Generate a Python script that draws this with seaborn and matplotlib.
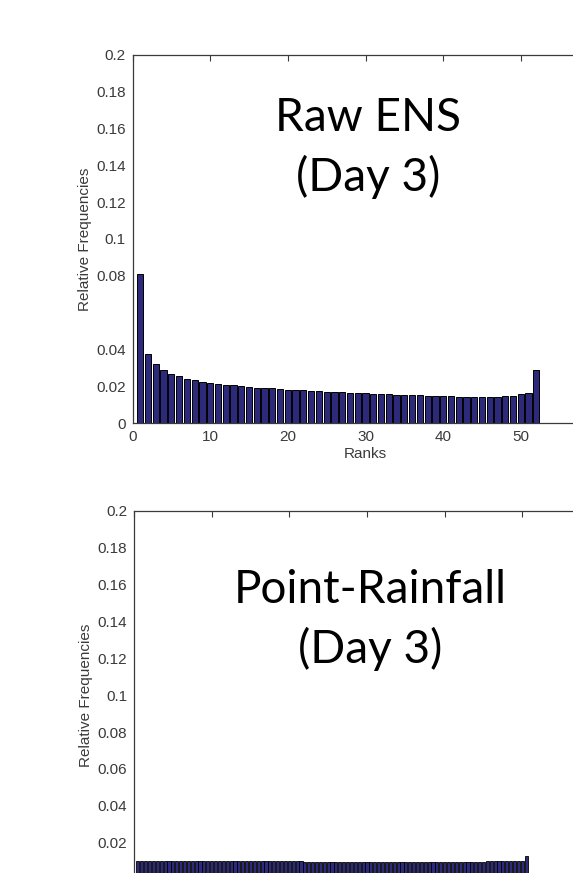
import matplotlib
matplotlib.use("Agg")
import matplotlib.pyplot as plt
import seaborn as sns
import numpy as np
import pandas as pd

# ---- data ----
raw_ranks = list(range(1, 53))
raw_freq = [0.0810, 0.0375, 0.0318, 0.0290, 0.0268, 0.0257, 0.0238, 0.0232, 0.0222, 0.0218,
            0.0213, 0.0208, 0.0204, 0.0200, 0.0195, 0.0190, 0.0190, 0.0188, 0.0185, 0.0180,
            0.0180, 0.0177, 0.0175, 0.0174, 0.0170, 0.0168, 0.0167, 0.0162, 0.0162, 0.0162,
            0.0157, 0.0157, 0.0156, 0.0152, 0.0151, 0.0151, 0.0150, 0.0146, 0.0146, 0.0146,
            0.0145, 0.0142, 0.0142, 0.0142, 0.0142, 0.0142, 0.0143, 0.0147, 0.0147, 0.0155,
            0.0165, 0.0290]

pr_ranks = list(range(1, 102))
pr_freq = [0.0101, 0.0101, 0.0101, 0.0101, 0.0101, 0.0101, 0.0101, 0.0101, 0.0101, 0.0101,
           0.0101, 0.0101, 0.0101, 0.0101, 0.0101, 0.0101, 0.0101, 0.0101, 0.0101, 0.0101,
           0.0099, 0.0099, 0.0099, 0.0099, 0.0099, 0.0099, 0.0099, 0.0099, 0.0099, 0.0099,
           0.0099, 0.0099, 0.0099, 0.0099, 0.0099, 0.0099, 0.0099, 0.0099, 0.0099, 0.0099,
           0.0099, 0.0099, 0.0099, 0.0097, 0.0097, 0.0097, 0.0097, 0.0097, 0.0097, 0.0097,
           0.0097, 0.0097, 0.0097, 0.0097, 0.0097, 0.0097, 0.0097, 0.0097, 0.0097, 0.0097,
           0.0097, 0.0097, 0.0097, 0.0097, 0.0097, 0.0097, 0.0097, 0.0097, 0.0097, 0.0097,
           0.0097, 0.0097, 0.0097, 0.0097, 0.0097, 0.0097, 0.0097, 0.0097, 0.0097, 0.0097,
           0.0097, 0.0097, 0.0097, 0.0097, 0.0097, 0.0097, 0.0097, 0.0097, 0.0097, 0.0097,
           0.0100, 0.0100, 0.0100, 0.0101, 0.0100, 0.0101, 0.0100, 0.0101, 0.0102, 0.0103,
           0.0127]

y_ticks = [0, 0.02, 0.04, 0.06, 0.08, 0.1, 0.12, 0.14, 0.16, 0.18, 0.2]
y_ticklabels_top = ["0", "0.02", "0.04", "", "0.08", "0.1", "0.12", "0.14", "0.16", "0.18", "0.2"]
y_ticklabels_bot = ["", "0.02", "0.04", "0.06", "0.08", "0.1", "0.12", "0.14", "0.16", "0.18", "0.2"]
x_ticks_top = [0, 10, 20, 30, 40, 50, 60]
x_ticklabels_top = ["0", "10", "20", "30", "40", "50", ""]
x_ticks_bot = [0, 20, 40, 60, 80, 100, 120]
x_ticklabels_bot = ["", "", "", "", "", "", ""]

panel_titles = ["Raw ENS\n(Day 3)", "Point-Rainfall\n(Day 3)"]

# ---- style ----
sns.set_style("white")
plt.rcParams["font.family"] = ["Liberation Sans", "DejaVu Sans"]

W, H = 573, 873
fig = plt.figure(figsize=(W / 100, H / 100), dpi=100)

bar_color = "#2d2a7c"
axis_color = "#3a3a3a"

def px_axes(left, top, right, bottom):
    return fig.add_axes([left / W, 1 - bottom / H, (right - left) / W, (bottom - top) / H])

ax1 = px_axes(132.5, 55, 132.5 + 466, 423)
ax2 = px_axes(134, 511, 134 + 466, 879.5)

def style(ax, xticks, xticklabels, xlim, yticklabels):
    ax.set_xlim(*xlim)
    ax.set_ylim(0, 0.2)
    ax.set_yticks(y_ticks)
    ax.set_yticklabels(yticklabels)
    ax.set_xticks(xticks)
    ax.set_xticklabels(xticklabels)
    ax.tick_params(direction="in", length=4, width=0.8, colors=axis_color,
                   labelsize=11, top=True, right=True, pad=5)
    for s in ax.spines.values():
        s.set_visible(True)
        s.set_color(axis_color)
        s.set_linewidth(0.9)
    ax.set_ylabel("Relative Frequencies", fontsize=11, color=axis_color, labelpad=3)

df1 = pd.DataFrame({"rank": raw_ranks, "freq": raw_freq})
sns.barplot(data=df1, x="rank", y="freq", native_scale=True, color=bar_color,
            saturation=1, edgecolor="black", linewidth=0.7, width=0.8, ax=ax1)
style(ax1, x_ticks_top, x_ticklabels_top, (0, 60), y_ticklabels_top)
ax1.set_xlabel("Ranks", fontsize=11, color=axis_color, labelpad=2)

df2 = pd.DataFrame({"rank": pr_ranks, "freq": pr_freq})
sns.barplot(data=df2, x="rank", y="freq", native_scale=True, color=bar_color,
            saturation=1, edgecolor="black", linewidth=0.6, width=0.8, ax=ax2)
style(ax2, x_ticks_bot, x_ticklabels_bot, (0, 120), y_ticklabels_bot)
ax2.set_xlabel("")

ax1.text((368 - 132.5) / 466, 1 - (148 - 55) / 368, panel_titles[0], transform=ax1.transAxes,
         ha="center", va="center", fontsize=33, family=["Lato", "DejaVu Sans"],
         linespacing=1.42, color="black")
ax2.text((370 - 134) / 466, 1 - (620 - 511) / 368.5, panel_titles[1], transform=ax2.transAxes,
         ha="center", va="center", fontsize=33, family=["Lato", "DejaVu Sans"],
         linespacing=1.42, color="black")

fig.savefig("out.png", dpi=100, facecolor="white")
